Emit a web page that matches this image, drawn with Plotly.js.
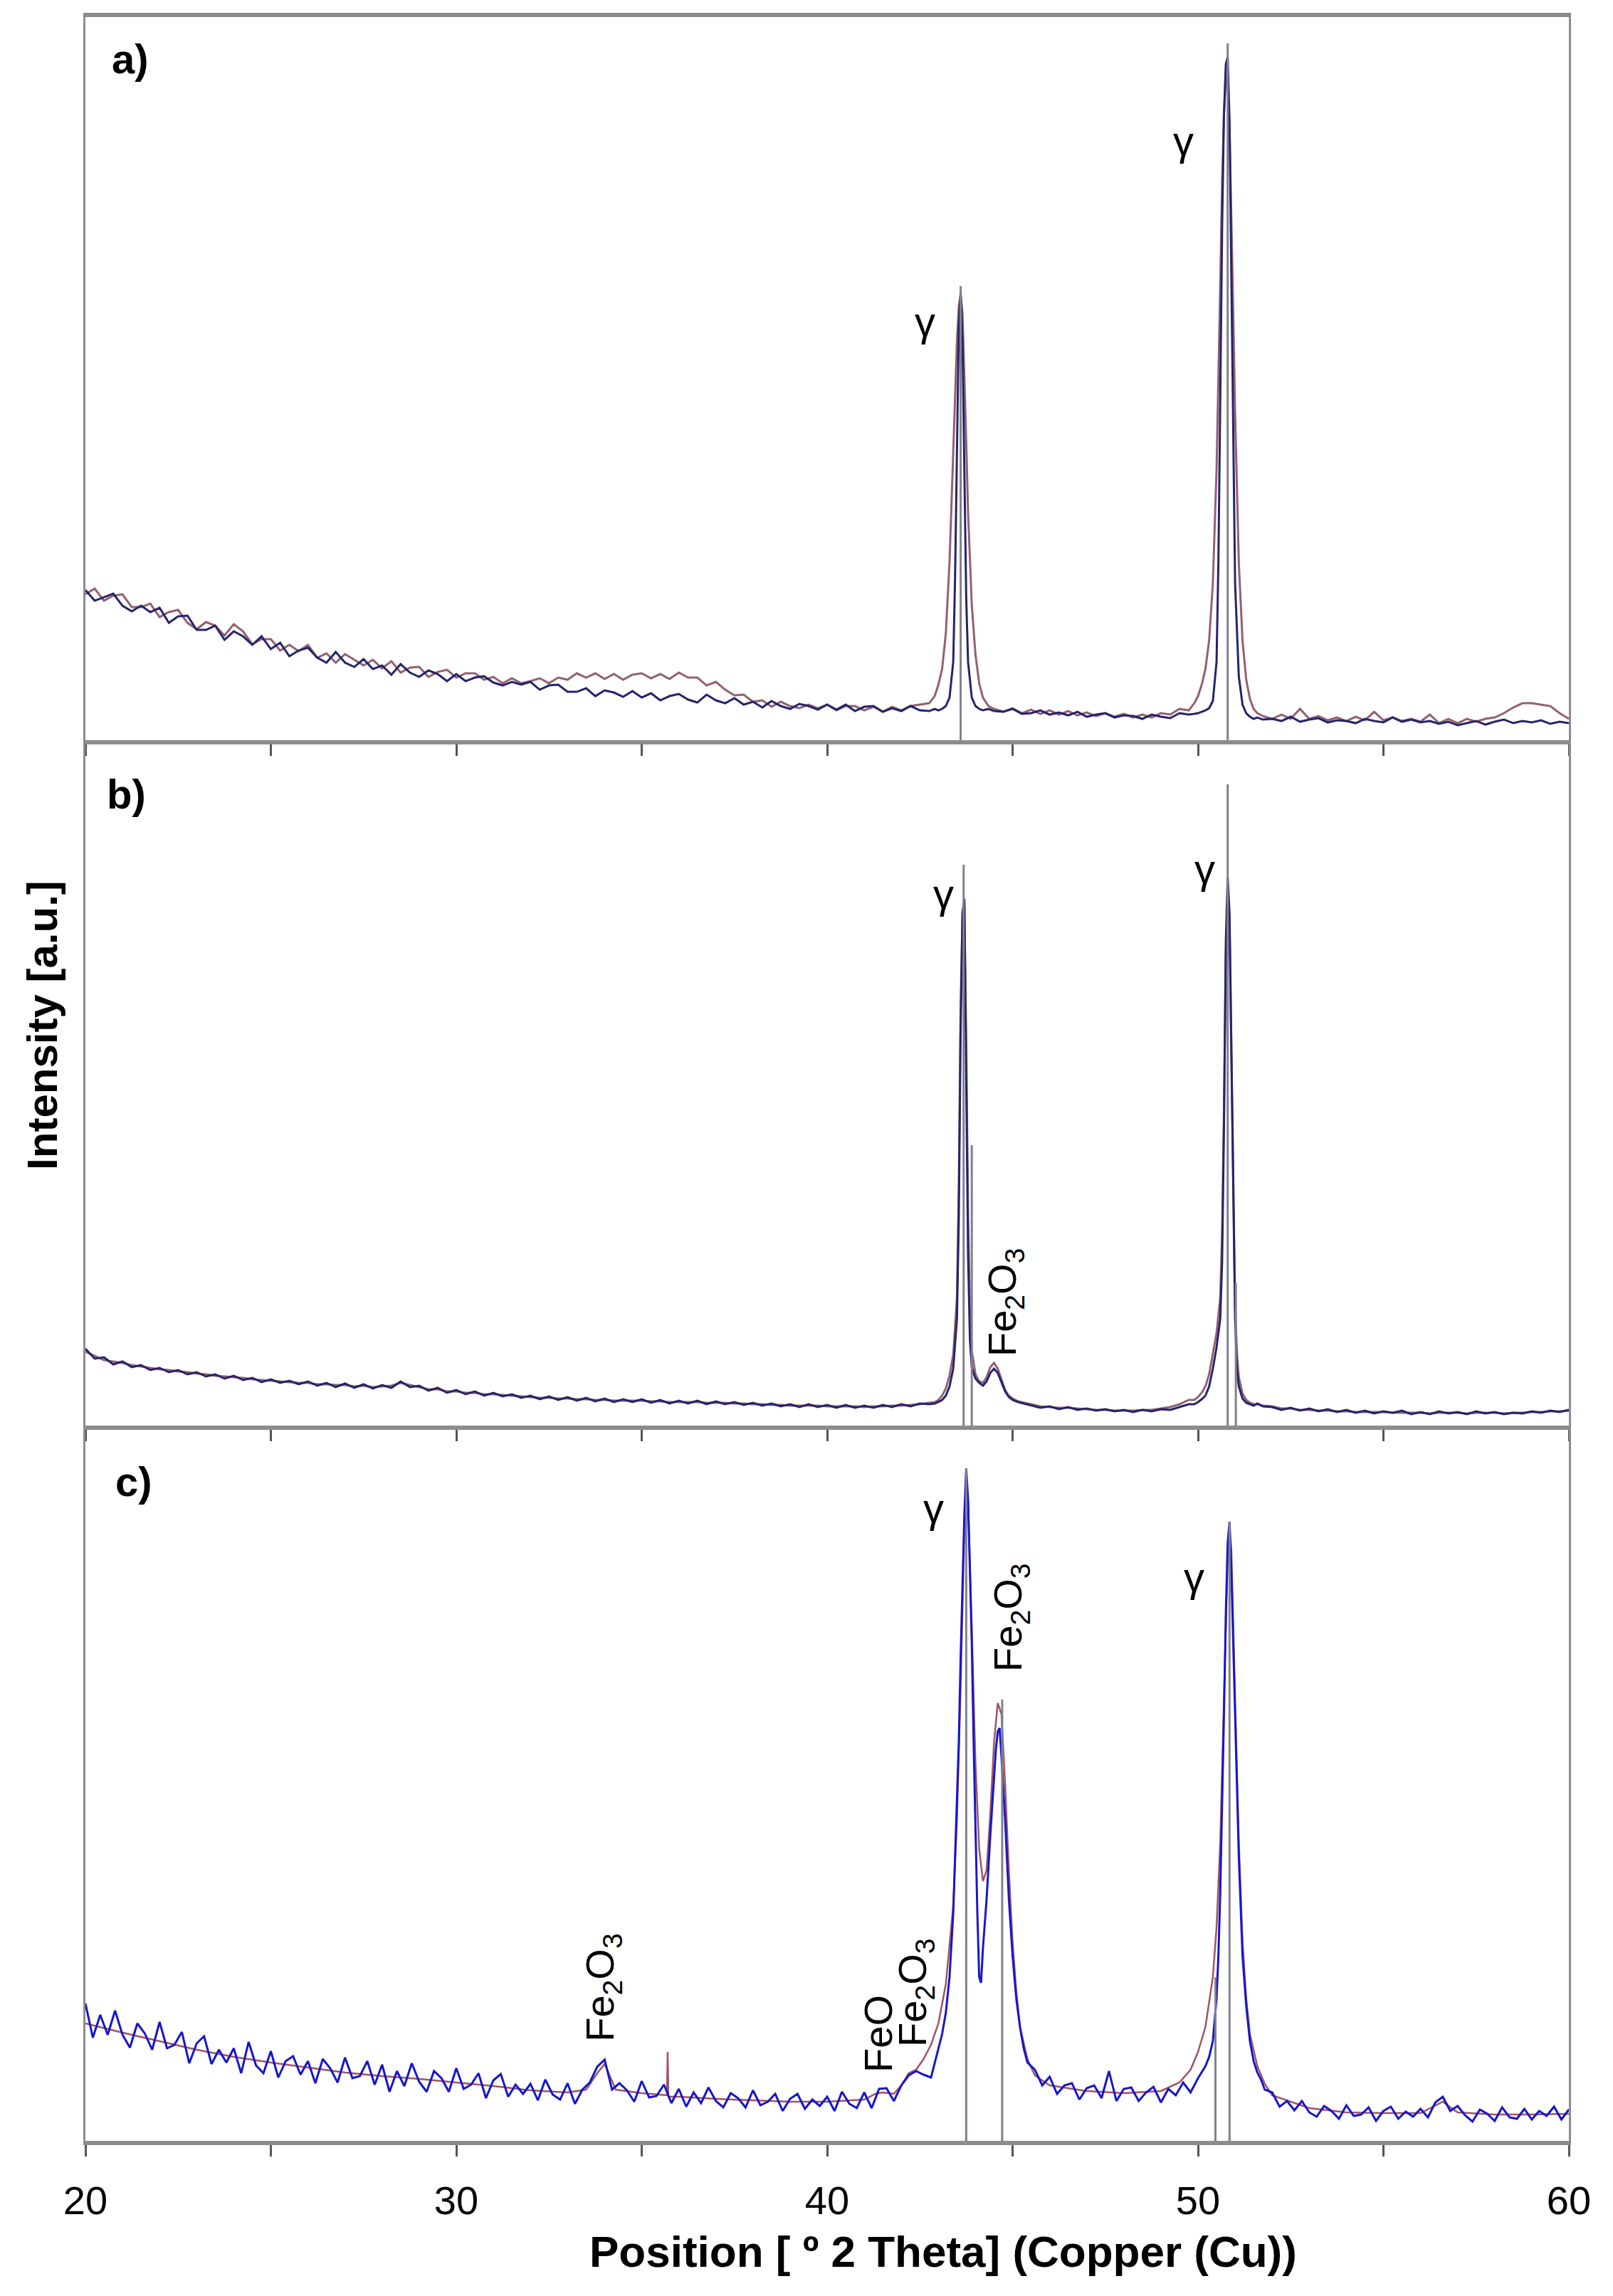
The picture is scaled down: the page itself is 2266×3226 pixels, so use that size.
<!DOCTYPE html>
<html>
<head>
<meta charset="utf-8">
<script src="https://cdn.plot.ly/plotly-3.0.1.min.js"></script>
<style>
  html, body { margin: 0; padding: 0; background: #ffffff; }
  #chart { width: 2266px; height: 3226px; }
</style>
</head>
<body>
<div id="chart"></div>
<script>
// ---------------- DATA (2θ in degrees, intensity in arbitrary units) ----------------
// shared sampling grids
const xGrid1 = [20,20.25,20.5,20.75,21,21.25,21.5,21.75,22,22.25,22.5,22.75,23,23.25,23.5,23.75,24,24.25,24.5,24.75,25,25.25,25.5,25.75,26,26.25,26.5,26.75,27,27.25,27.5,27.75,28,28.25,28.5,28.75,29,29.25,29.5,29.75,30,30.25,30.5,30.75,31,31.25,31.5,31.75,32,32.25,32.5,32.75,33,33.25,33.5,33.75,34,34.25,34.5,34.75,35,35.25,35.5,35.75,36,36.25,36.5,36.75,37,37.25,37.5,37.75,38,38.25,38.5,38.75,39,39.25,39.5,39.75,40,40.25,40.5,40.75,41,41.25,41.5,41.75,42,42.25,42.5,42.75];
const xGrid5 = [52,52.25,52.5,52.75,53,53.25,53.5,53.75,54,54.25,54.5,54.75,55,55.25,55.5,55.75,56,56.25,56.5,56.75,57,57.25,57.5,57.75,58,58.25,58.5,58.75,59,59.25,59.5,59.75,60];

// ---- panel a ----
const xA2 = [42.9,43,43.1,43.2,43.3,43.4,43.45,43.5,43.55,43.6,43.65,43.7,43.75,43.8,43.9,44,44.1,44.2,44.35,44.5];
const xA3 = [44.75,45,45.25,45.5,45.75,46,46.25,46.5,46.75,47,47.25,47.5,47.75,48,48.25,48.5,48.75,49,49.25,49.5,49.75];
const xA4 = [49.9,50,50.1,50.2,50.3,50.4,50.5,50.55,50.6,50.65,50.7,50.75,50.8,50.85,50.9,50.95,51,51.1,51.2,51.3,51.4,51.5,51.6,51.75];

const blueA1 = [211,196,201,206,189,181,189,180,186,165,174,175,155,155,161,141,153,146,134,146,128,137,118,126,130,116,109,124,109,103,114,100,105,92,107,95,89,98,93,83,93,83,88,90,81,77,82,78,82,71,77,78,68,68,73,62,70,67,61,69,60,66,56,62,65,57,53,64,56,52,59,50,54,46,55,48,44,51,48,43,50,43,50,41,47,48,40,45,41,48,42,41];
const blueA2 = [44,42,44,48,60,110,230,420,580,630,560,380,200,110,60,48,44,42,44,41];
const blueA3 = [40,44,37,38,42,36,39,35,40,33,36,38,32,35,34,30,36,33,31,38,36];
const blueA4 = [37,38,40,42,45,55,110,250,480,720,880,950,960,870,650,400,220,90,50,38,33,30,32,29];
const blueA5 = [30,27,33,26,29,31,25,28,27,24,30,27,25,32,26,29,25,27,23,26,21,24,27,22,26,29,24,27,25,28,23,26,24];

const maroonA1 = [205,213,196,203,205,187,187,192,173,180,183,165,156,166,161,147,163,153,135,142,142,126,134,125,134,116,122,109,121,113,105,113,101,111,95,102,103,89,96,99,88,94,94,85,89,80,87,80,83,87,80,88,85,94,88,94,86,93,85,92,94,87,93,86,95,88,88,77,82,71,63,64,54,56,47,54,48,45,50,45,50,42,48,48,42,47,40,47,42,48,50,52];
const maroonA2 = [62,78,100,150,250,400,480,560,610,625,600,520,420,320,190,120,80,60,48,44];
const maroonA3 = [40,45,38,43,37,42,36,41,35,39,34,38,33,37,32,36,32,38,36,44,42];
const maroonA4 = [52,62,78,100,140,220,380,500,640,780,880,930,920,860,740,600,460,250,140,85,58,44,38,34];
const maroonA5 = [30,36,30,44,30,34,28,32,27,33,28,40,28,32,27,30,26,36,24,30,24,30,26,30,32,38,46,52,52,50,48,38,30];

const stickPosA = [43.6, 50.8];
const stickHtA  = [638, 979];

// ---- panel b ----
const xB2 = [42.9,43,43.1,43.2,43.3,43.4,43.5,43.55,43.6,43.65,43.7,43.75,43.8,43.85,43.9,44,44.1,44.2,44.3,44.4,44.5,44.6,44.7,44.8,44.9,45,45.15,45.3];
const xB3 = [45.5,45.75,46,46.25,46.5,46.75,47,47.25,47.5,47.75,48,48.25,48.5,48.75,49,49.25,49.5,49.75];
const xB4 = [49.9,50,50.1,50.2,50.3,50.4,50.5,50.6,50.65,50.7,50.75,50.8,50.85,50.9,50.95,51,51.05,51.1,51.2,51.3,51.4,51.5,51.6,51.75];

const blueB1 = [108,94,96,86,90,82,85,78,81,75,78,72,75,69,72,66,70,64,67,61,65,60,63,58,62,56,60,54,59,53,58,52,57,53,62,54,56,49,53,46,50,44,48,42,46,41,44,39,42,37,41,36,40,35,39,34,38,33,37,33,37,32,36,31,35,31,35,30,34,30,33,29,32,28,31,27,30,26,30,26,29,25,29,25,28,25,29,26,30,27,31,30];
const blueB2 = [31,33,36,42,55,80,150,290,560,720,740,520,240,120,82,66,60,56,62,74,80,74,60,48,40,36,33,31];
const blueB3 = [28,25,27,23,26,22,24,21,23,20,22,19,22,20,23,22,26,30];
const blueB4 = [30,33,37,42,55,80,110,150,230,420,680,770,720,520,300,150,80,55,38,32,30,28,31,27];
const blueB5 = [26,22,25,21,24,20,23,19,22,18,21,17,20,18,21,16,19,16,20,17,19,16,20,17,19,16,18,17,20,18,21,19,22];

const maroonB1 = [104,98,92,90,88,85,83,81,79,78,76,75,73,72,70,69,68,67,65,64,63,62,61,60,60,58,58,57,57,55,56,54,55,56,60,57,54,51,51,48,48,46,46,44,44,43,42,41,40,39,39,38,38,37,37,36,36,35,35,35,35,34,34,33,33,33,33,32,32,32,31,31,30,30,29,29,28,28,28,28,27,27,27,27,26,27,27,28,28,29,30,32];
const maroonB2 = [33,36,42,52,70,100,180,340,590,720,730,540,300,160,105,72,62,60,68,82,88,80,64,50,42,38,34,32];
const maroonB3 = [30,27,26,25,25,24,23,22,22,21,21,21,22,22,24,26,30,36];
const maroonB4 = [36,40,46,55,72,100,130,180,270,440,660,740,700,520,320,170,100,68,45,36,32,30,30,28];
const maroonB5 = [27,24,24,22,22,21,21,20,20,19,19,19,19,18,18,18,18,17,18,18,18,17,18,18,18,17,18,18,19,19,20,20,21];

const stickPosB = [43.68, 43.9, 50.8, 51.02];
const stickHtB  = [788, 394, 901, 200];

// ---- panel c ----
const xC1 = [20,20.2,20.4,20.6,20.8,21,21.2,21.4,21.6,21.8,22,22.2,22.4,22.6,22.8,23,23.2,23.4,23.6,23.8,24,24.2,24.4,24.6,24.8,25,25.2,25.4,25.6,25.8,26,26.2,26.4,26.6,26.8,27,27.2,27.4,27.6,27.8,28,28.2,28.4,28.6,28.8,29,29.2,29.4,29.6,29.8,30,30.2,30.4,30.6,30.8,31,31.2,31.4,31.6,31.8,32,32.2,32.4,32.6,32.8,33,33.2,33.4,33.6,33.8,34,34.2,34.4,34.6,34.8,35,35.2,35.4,35.6,35.8,36,36.2,36.4,36.6,36.8,37,37.2,37.4,37.6,37.8,38,38.2,38.4,38.6,38.8,39,39.2,39.4,39.6,39.8,40,40.2,40.4,40.6,40.8,41,41.2,41.4,41.6,41.8,42,42.2,42.4,42.6,42.8];
const xC2 = [43,43.1,43.2,43.3,43.4,43.5,43.55,43.6,43.65,43.7,43.75,43.8,43.85,43.9,43.95,44,44.05,44.1,44.15,44.2,44.3,44.4,44.5,44.55,44.6,44.65,44.7,44.8,44.9,45,45.1,45.2,45.3,45.4];
const xC3 = [45.6,45.8,46,46.2,46.4,46.6,46.8,47,47.2,47.4,47.6,47.8,48,48.2,48.4,48.6,48.8,49,49.2,49.4,49.6,49.8];
const xC4 = [50,50.1,50.2,50.3,50.4,50.5,50.55,50.6,50.65,50.7,50.75,50.8,50.85,50.9,50.95,51,51.05,51.1,51.2,51.3,51.4,51.5,51.6,51.7,51.8];
const xC5 = [52,52.2,52.4,52.6,52.8,53,53.2,53.4,53.6,53.8,54,54.2,54.4,54.6,54.8,55,55.2,55.4,55.6,55.8,56,56.2,56.4,56.6,56.8,57,57.2,57.4,57.6,57.8,58,58.2,58.4,58.6,58.8,59,59.2,59.4,59.6,59.8,60];

const blueC1 = [193,145,177,149,183,149,131,165,151,128,167,130,135,153,109,137,147,108,128,110,130,95,139,106,95,126,89,112,119,93,112,81,115,102,82,117,88,91,112,79,107,69,98,77,109,83,69,98,88,69,102,73,79,95,60,85,94,62,79,66,80,57,86,65,58,81,52,72,82,104,114,72,81,71,55,84,61,63,79,53,73,48,68,53,75,56,47,67,60,47,71,50,55,66,42,59,66,45,58,49,62,42,69,52,46,68,46,73,74,56,78,92,98,93,89];
const blueC2 = [130,150,180,230,320,480,560,680,780,880,945,900,800,700,560,430,320,230,222,270,340,430,510,550,575,580,540,450,340,260,200,160,130,110];
const blueC3 = [100,78,90,66,78,81,58,74,78,60,98,56,73,75,56,68,76,54,73,64,82,68];
const blueC4 = [88,96,105,118,140,200,260,350,460,600,740,840,870,800,700,600,500,400,260,190,140,112,96,86,72];
const blueC5 = [68,48,56,43,56,40,34,49,42,31,50,35,37,47,28,42,48,31,41,34,45,33,54,62,42,49,36,27,44,38,28,47,33,31,45,30,42,35,48,30,44];

const xCm = [20,21,22,23,24,25,26,27,28,29,30,31,32,33,33.5,33.8,34,34.3,35,35.68,35.7,35.72,36,37,38,39,40,41,41.3,41.5,41.8,42,42.2,42.4,42.6,42.8,43,43.2,43.4,43.5,43.6,43.7,43.75,43.8,43.9,44,44.1,44.2,44.3,44.4,44.5,44.6,44.7,44.8,44.9,45,45.1,45.2,45.4,45.6,46,47,48,49,49.5,49.8,50,50.2,50.4,50.5,50.6,50.7,50.8,50.85,50.9,51,51.1,51.2,51.3,51.4,51.6,51.8,52,53,54,55,56,56.6,57,58,59,60];
const maroonC = [165,152,140,128,118,110,103,96,91,87,82,77,71,68,72,95,108,72,67,64,125,62,62,59,57,55,55,58,66,68,66,78,95,100,115,135,165,220,330,450,640,860,930,900,720,530,410,365,380,460,560,615,600,500,380,280,210,160,115,92,78,70,67,70,82,100,125,160,230,300,420,620,820,860,830,620,420,280,200,150,105,80,64,46,40,39,39,55,40,37,37,38];

const stickPosC = [43.75, 44.72, 50.47, 50.85];
const stickHtC  = [945, 620, 230, 870];

// ---- text labels ----
const panelNames = ['a)', 'b)', 'c)'];
const panelNameX = [21.2, 21.1, 21.3];
const panelNameY = [958, 888, 926];

const gammaPanel = ['a', 'a', 'b', 'b', 'c', 'c'];
const gammaX = [42.63, 49.6, 43.13, 50.19, 42.86, 49.9];
const gammaY = [589, 843, 748, 783, 889, 792];

const phaseText = ['Fe<sub>2</sub>O<sub>3</sub>', 'Fe<sub>2</sub>O<sub>3</sub>', 'Fe<sub>2</sub>O<sub>3</sub>', 'FeO', 'Fe<sub>2</sub>O<sub>3</sub>'];
const phasePanel = ['b', 'c', 'c', 'c', 'c'];
const phaseX = [44.78, 44.95, 33.95, 41.38, 42.38];
const phaseY = [173, 736, 216, 151, 208];

const xTitle = 'Position [ º 2 Theta] (Copper (Cu))';
const yTitle = 'Intensity [a.u.]';
const xTickVals = [20, 30, 40, 50, 60];

// ---------------- BUILD ----------------
const FONT = 'Liberation Sans, Arial, Helvetica, sans-serif';
const BLUE_AB = '#25246c';
const MAROON_AB = '#946070';
const BLUE_C = '#1616cc';
const MAROON_C = '#a05462';
const STICK = '#80808e';
const FRAME = '#8c8c8c';

function sticks(pos, ht, xa, ya) {
  const xs = [], ys = [];
  pos.forEach((p, i) => { xs.push(p, p, null); ys.push(0, ht[i], null); });
  return { x: xs, y: ys, xaxis: xa, yaxis: ya, mode: 'lines', type: 'scatter',
           line: { color: STICK, width: 3 }, hoverinfo: 'skip', showlegend: false };
}
function line(x, y, xa, ya, color, width) {
  return { x: x, y: y, xaxis: xa, yaxis: ya, mode: 'lines', type: 'scatter',
           line: { color: color, width: width, shape: 'linear' }, hoverinfo: 'skip', showlegend: false };
}

const xA = [...xGrid1, ...xA2, ...xA3, ...xA4, ...xGrid5];
const xB = [...xGrid1, ...xB2, ...xB3, ...xB4, ...xGrid5];
const xC = [...xC1, ...xC2, ...xC3, ...xC4, ...xC5];

const traces = [
  line(xA, [...maroonA1, ...maroonA2, ...maroonA3, ...maroonA4, ...maroonA5], 'x', 'y', MAROON_AB, 3),
  line(xA, [...blueA1, ...blueA2, ...blueA3, ...blueA4, ...blueA5], 'x', 'y', BLUE_AB, 3),
  sticks(stickPosA, stickHtA, 'x', 'y'),
  line(xB, [...maroonB1, ...maroonB2, ...maroonB3, ...maroonB4, ...maroonB5], 'x2', 'y2', MAROON_AB, 3),
  line(xB, [...blueB1, ...blueB2, ...blueB3, ...blueB4, ...blueB5], 'x2', 'y2', BLUE_AB, 3),
  sticks(stickPosB, stickHtB, 'x2', 'y2'),
  line(xCm, maroonC, 'x3', 'y3', MAROON_C, 2.5),
  line(xC, [...blueC1, ...blueC2, ...blueC3, ...blueC4, ...blueC5], 'x3', 'y3', BLUE_C, 3),
  sticks(stickPosC, stickHtC, 'x3', 'y3')
];

const refs = { a: ['x', 'y'], b: ['x2', 'y2'], c: ['x3', 'y3'] };
const annotations = [];
panelNames.forEach((t, i) => {
  const r = refs[['a', 'b', 'c'][i]];
  annotations.push({ text: '<b>' + t + '</b>', x: panelNameX[i], y: panelNameY[i], xref: r[0], yref: r[1],
    showarrow: false, xanchor: 'center', yanchor: 'middle', font: { family: FONT, size: 58, color: '#000' } });
});
gammaX.forEach((gx, i) => {
  const r = refs[gammaPanel[i]];
  annotations.push({ text: 'γ', x: gx, y: gammaY[i], xref: r[0], yref: r[1],
    showarrow: false, xanchor: 'center', yanchor: 'middle', font: { family: FONT, size: 58, color: '#000' } });
});
phaseX.forEach((px, i) => {
  const r = refs[phasePanel[i]];
  annotations.push({ text: phaseText[i], x: px, y: phaseY[i], xref: r[0], yref: r[1], textangle: -90,
    showarrow: false, xanchor: 'center', yanchor: 'middle', font: { family: FONT, size: 56, color: '#000' } });
});
annotations.push({ text: '<b>' + yTitle + '</b>', x: -0.0288, y: 0.5255, xref: 'paper', yref: 'paper', textangle: -90,
  showarrow: false, xanchor: 'center', yanchor: 'middle', font: { family: FONT, size: 60, color: '#000' } });
annotations.push({ text: '<b>' + xTitle + '</b>', x: 0.578, y: -0.052, xref: 'paper', yref: 'paper',
  showarrow: false, xanchor: 'center', yanchor: 'middle', font: { family: FONT, size: 62, color: '#000' } });

function xaxisDef(anchor, labels, mirror) {
  const ax = {
    range: [20, 60], anchor: anchor, domain: [0, 1],
    showline: true, linecolor: FRAME, linewidth: 6, mirror: mirror,
    showgrid: false, zeroline: false,
    tickmode: 'array', tickvals: xTickVals, ticktext: xTickVals.map(String),
    ticks: 'outside', ticklen: 16, tickwidth: 3, tickcolor: '#555555',
    minor: { dtick: 5, tick0: 20, ticks: 'outside', ticklen: 16, tickwidth: 3, tickcolor: '#555555', showgrid: false },
    showticklabels: labels,
    tickfont: { family: FONT, size: 56, color: '#000' },
    fixedrange: true
  };
  if (labels) { ax.ticklabelstandoff = 14; }
  return ax;
}
function yaxisDef(domain, top, anchor) {
  return {
    domain: domain, range: [0, top], anchor: anchor,
    showline: true, linecolor: FRAME, linewidth: 3, mirror: true,
    showgrid: false, zeroline: false, ticks: '', showticklabels: false, fixedrange: true
  };
}

const layout = {
  width: 2266, height: 3226,
  margin: { l: 120, r: 62, t: 24, b: 218, pad: 0 },
  paper_bgcolor: '#ffffff', plot_bgcolor: '#ffffff',
  showlegend: false,
  font: { family: FONT, color: '#000' },
  xaxis: xaxisDef('y', false, true),
  xaxis2: xaxisDef('y2', false, false),
  xaxis3: xaxisDef('y3', true, false),
  yaxis: yaxisDef([0.6595, 1], 1016, 'x'),
  yaxis2: yaxisDef([0.3368, 0.6595], 963, 'x2'),
  yaxis3: yaxisDef([0, 0.3368], 1005, 'x3'),
  annotations: annotations
};

Plotly.newPlot('chart', traces, layout, { staticPlot: true, displayModeBar: false });
</script>
</body>
</html>
